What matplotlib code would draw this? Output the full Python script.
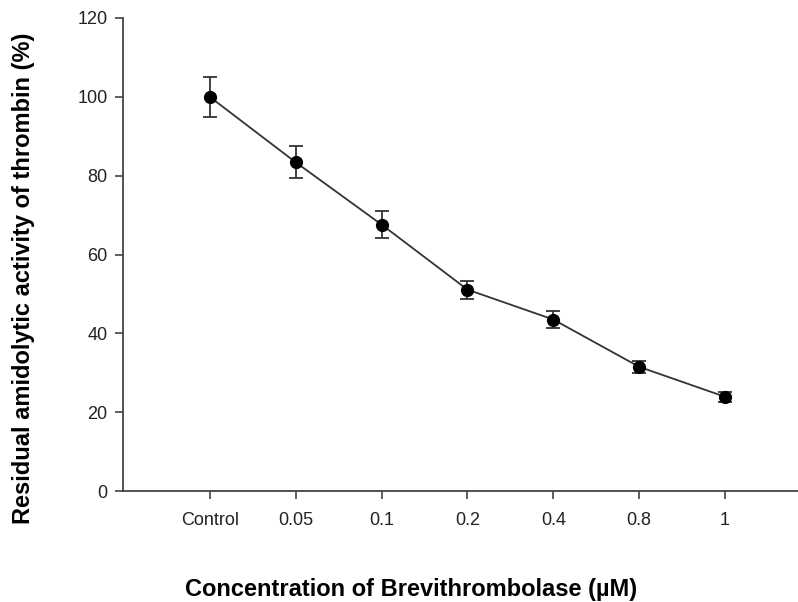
import matplotlib
matplotlib.use('Agg')
import matplotlib.pyplot as plt

plt.rcParams['font.family'] = ['Liberation Sans', 'DejaVu Sans']

# residual activity per concentration, mean and error
labels = ['Control', '0.05', '0.1', '0.2', '0.4', '0.8', '1']
activity = [100.0, 83.4, 67.6, 51.1, 43.5, 31.5, 23.9]
error = [5.0, 4.1, 3.4, 2.3, 2.2, 1.6, 1.2]

W, H = 798, 602
fig = plt.figure(figsize=(W / 100, H / 100), dpi=100)
left, right, bottom, top = 123, 811, 491, 18
ax = fig.add_axes([left / W, (H - bottom) / H, (right - left) / W, (bottom - top) / H])

x = list(range(len(labels)))
ax.errorbar(x, activity, yerr=error, color='#333333', lw=1.3, marker='o',
            markersize=8.5, markerfacecolor='black', markeredgecolor='black',
            ecolor='#333333', elinewidth=1.3, capsize=5, capthick=1.3, zorder=3)

ax.set_xlim(-1.01, 7.0)
ax.set_ylim(0, 120)
ax.set_xticks(x)
ax.set_xticklabels(labels)
ax.set_yticks(range(0, 121, 20))
for side in ['top', 'right']:
    ax.spines[side].set_visible(False)
for side in ['left', 'bottom']:
    ax.spines[side].set_linewidth(1.3)
    ax.spines[side].set_color('#444444')
ax.tick_params(direction='out', length=6, width=1.2, color='#444444',
               labelsize=13, labelcolor='#222222')
ax.tick_params(axis='x', pad=9)
ax.tick_params(axis='y', pad=5)

fig.text(411 / W, 1 - 596 / H, 'Concentration of Brevithrombolase (\u00b5M)',
         ha='center', va='baseline', fontsize=17, fontweight='bold')
fig.text(24 / W, 1 - 278 / H, 'Residual amidolytic activity of thrombin (%)',
         ha='center', va='center', rotation=90, fontsize=17, fontweight='bold')

fig.savefig('out.png', dpi=100)
